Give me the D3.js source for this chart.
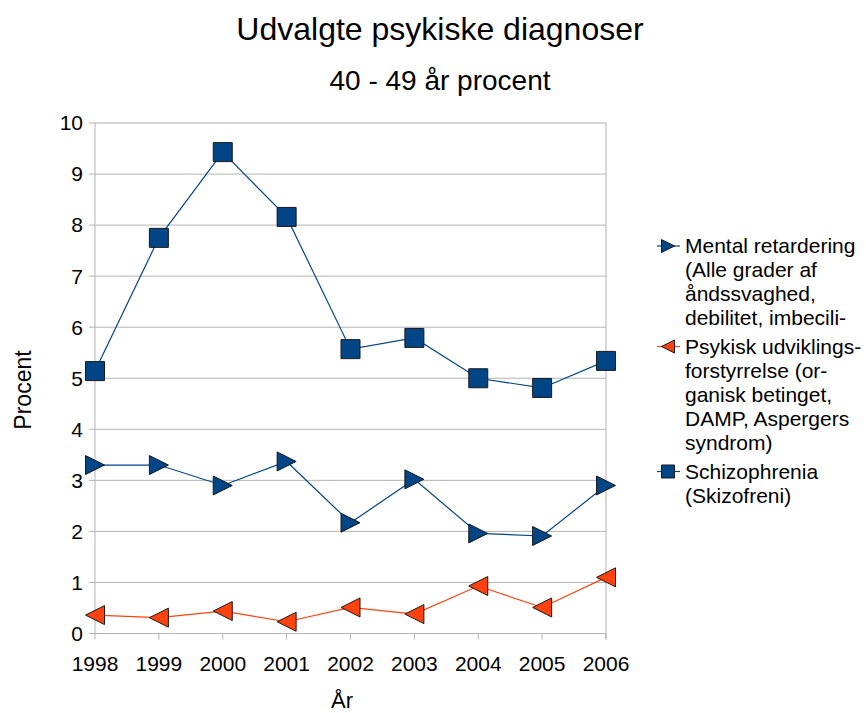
<!DOCTYPE html>
<html>
<head>
<meta charset="utf-8">
<script src="https://cdn.jsdelivr.net/npm/d3@7"></script>
<style>
  body { margin: 0; background: #fff; }
  text { font-family: "Liberation Sans", Arial, sans-serif; fill: #000; }
</style>
</head>
<body>
<div id="chart"></div>
<script>
// Data
const years = ["1998", "1999", "2000", "2001", "2002", "2003", "2004", "2005", "2006"];
const mental = [3.30, 3.30, 2.90, 3.37, 2.17, 3.02, 1.96, 1.91, 2.90];
const psykisk = [0.36, 0.31, 0.44, 0.23, 0.51, 0.38, 0.93, 0.51, 1.10];
const schizo = [5.14, 7.75, 9.43, 8.16, 5.57, 5.79, 5.00, 4.81, 5.34];
const yTicks = [0, 1, 2, 3, 4, 5, 6, 7, 8, 9, 10];

const series = [
  { name: ["Mental retardering", "(Alle grader af", "åndssvaghed,", "debilitet, imbecili-"], values: mental, color: "#004586", marker: "right" },
  { name: ["Psykisk udviklings-", "forstyrrelse (or-", "ganisk betinget,", "DAMP, Aspergers", "syndrom)"], values: psykisk, color: "#ff420e", marker: "left" },
  { name: ["Schizophrenia", "(Skizofreni)"], values: schizo, color: "#004586", marker: "square" }
];

const width = 866, height = 713;
const plot = { left: 95, right: 606, top: 123, bottom: 633.5 };

const svg = d3.select("#chart").append("svg")
  .attr("width", width).attr("height", height);

svg.append("rect").attr("width", width).attr("height", height).attr("fill", "white");

const x = d3.scalePoint().domain(years).range([plot.left, plot.right]);
const y = d3.scaleLinear().domain([0, 10]).range([plot.bottom, plot.top]);

// Gridlines
svg.append("g").selectAll("line").data(yTicks).join("line")
  .attr("x1", plot.left - 6).attr("x2", plot.right)
  .attr("y1", d => y(d)).attr("y2", d => y(d))
  .attr("stroke", "#b3b3b3").attr("stroke-width", 1);

// Y axis line and labels
svg.append("line")
  .attr("x1", plot.left).attr("x2", plot.left)
  .attr("y1", plot.top).attr("y2", plot.bottom)
  .attr("stroke", "#b3b3b3");
svg.append("line")
  .attr("x1", plot.right).attr("x2", plot.right)
  .attr("y1", plot.top).attr("y2", plot.bottom + 6)
  .attr("stroke", "#b3b3b3");

svg.append("g").selectAll("text").data(yTicks).join("text")
  .attr("x", plot.left - 12).attr("y", d => y(d))
  .attr("dy", "0.35em").attr("text-anchor", "end")
  .style("font-size", "21px")
  .text(d => d);

// X ticks and labels
svg.append("g").selectAll("line").data(years).join("line")
  .attr("x1", d => x(d)).attr("x2", d => x(d))
  .attr("y1", plot.bottom).attr("y2", plot.bottom + 6)
  .attr("stroke", "#b3b3b3");

svg.append("g").selectAll("text").data(years).join("text")
  .attr("x", d => x(d)).attr("y", 671)
  .attr("text-anchor", "middle")
  .style("font-size", "21px")
  .text(d => d);

// Titles
svg.append("text").attr("x", 440).attr("y", 40).attr("text-anchor", "middle")
  .style("font-size", "32px").text("Udvalgte psykiske diagnoser");
svg.append("text").attr("x", 440).attr("y", 90).attr("text-anchor", "middle")
  .style("font-size", "28px").text("40 - 49 år procent");
svg.append("text").attr("transform", "translate(31,390) rotate(-90)")
  .attr("text-anchor", "middle").style("font-size", "23px").text("Procent");
svg.append("text").attr("x", 342).attr("y", 708).attr("text-anchor", "middle")
  .style("font-size", "22px").text("År");

// Marker shapes
function markerPath(type, s) {
  const h = s / 2;
  if (type === "right") return `M${-h},${-h}L${h},0L${-h},${h}Z`;
  if (type === "left") return `M${h},${-h}L${-h},0L${h},${h}Z`;
  return `M${-h},${-h}H${h}V${h}H${-h}Z`;
}

const line = d3.line().x((d, i) => x(years[i])).y(d => y(d));

series.forEach(s => {
  svg.append("path").datum(s.values)
    .attr("d", line).attr("fill", "none")
    .attr("stroke", s.color).attr("stroke-width", 1.2);
  svg.append("g").selectAll("path").data(s.values).join("path")
    .attr("transform", (d, i) => `translate(${x(years[i])},${y(d)})`)
    .attr("d", markerPath(s.marker, 19))
    .attr("fill", s.color).attr("stroke", "#1a1a1a").attr("stroke-width", 1);
});

// Legend
const legendStarts = [246, 346.5, 471.5];
series.forEach((s, k) => {
  const ly = legendStarts[k];
  const g = svg.append("g");
  g.append("line").attr("x1", 657).attr("x2", 680).attr("y1", ly).attr("y2", ly)
    .attr("stroke", s.color).attr("stroke-width", 1.2);
  g.append("path").attr("transform", `translate(668,${ly})`)
    .attr("d", markerPath(s.marker, 13))
    .attr("fill", s.color).attr("stroke", "#1a1a1a").attr("stroke-width", 1);
  g.selectAll("text").data(s.name).join("text")
    .attr("x", 685).attr("y", (d, i) => ly + i * 24)
    .attr("dy", "0.35em")
    .style("font-size", "21px")
    .text(d => d);
});
</script>
</body>
</html>
